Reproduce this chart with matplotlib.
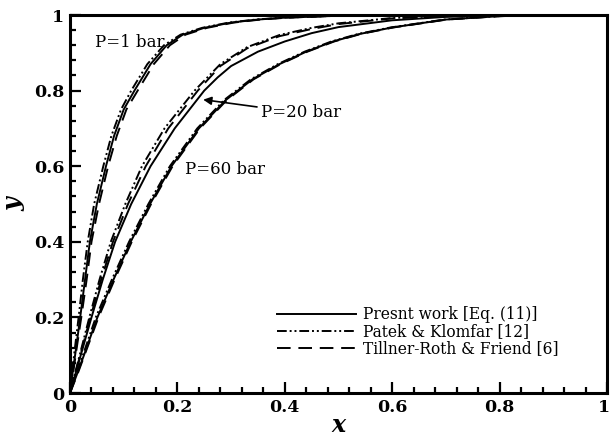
import matplotlib
matplotlib.use('Agg')
import matplotlib.pyplot as plt

# y-x data, three pressures, three models
p1_x_pw = [0, 0.005, 0.010, 0.019, 0.028, 0.037, 0.050, 0.067, 0.082, 0.100, 0.120, 0.150, 0.180, 0.210, 0.250, 0.300, 0.350, 0.400, 0.500, 0.600, 0.800, 1.000]
p1_y_pw = [0, 0.055, 0.105, 0.200, 0.300, 0.400, 0.500, 0.600, 0.680, 0.750, 0.800, 0.870, 0.920, 0.948, 0.966, 0.980, 0.988, 0.993, 0.998, 1.000, 1.000, 1.000]
p1_x_pk = [0, 0.004, 0.008, 0.016, 0.024, 0.033, 0.045, 0.062, 0.077, 0.095, 0.114, 0.144, 0.175, 0.206, 0.246, 0.296, 0.346, 0.397, 0.500, 0.600, 0.800, 1.000]
p1_y_pk = [0, 0.055, 0.105, 0.200, 0.300, 0.400, 0.500, 0.600, 0.680, 0.750, 0.800, 0.870, 0.920, 0.948, 0.966, 0.980, 0.988, 0.993, 0.998, 1.000, 1.000, 1.000]
p1_x_tr = [0, 0.006, 0.011, 0.021, 0.031, 0.040, 0.054, 0.071, 0.087, 0.105, 0.126, 0.156, 0.186, 0.215, 0.255, 0.305, 0.355, 0.405, 0.500, 0.600, 0.800, 1.000]
p1_y_tr = [0, 0.055, 0.105, 0.200, 0.300, 0.400, 0.500, 0.600, 0.680, 0.750, 0.800, 0.870, 0.920, 0.948, 0.966, 0.980, 0.988, 0.993, 0.998, 1.000, 1.000, 1.000]

p20_x_pw = [0, 0.010, 0.020, 0.040, 0.061, 0.084, 0.114, 0.150, 0.195, 0.250, 0.275, 0.300, 0.350, 0.400, 0.450, 0.500, 0.600, 0.700, 0.800, 0.900, 1.000]
p20_y_pw = [0, 0.050, 0.100, 0.200, 0.300, 0.400, 0.500, 0.600, 0.700, 0.800, 0.835, 0.865, 0.903, 0.930, 0.952, 0.968, 0.986, 0.995, 0.999, 1.000, 1.000]
p20_x_pk = [0, 0.009, 0.018, 0.036, 0.055, 0.076, 0.103, 0.134, 0.176, 0.232, 0.280, 0.330, 0.390, 0.450, 0.500, 0.600, 0.700, 0.800, 0.900, 1.000]
p20_y_pk = [0, 0.050, 0.100, 0.200, 0.300, 0.400, 0.500, 0.600, 0.700, 0.800, 0.870, 0.915, 0.947, 0.966, 0.978, 0.992, 0.998, 1.000, 1.000, 1.000]
p20_x_tr = [0, 0.0095, 0.019, 0.038, 0.058, 0.080, 0.108, 0.141, 0.183, 0.238, 0.280, 0.330, 0.390, 0.450, 0.500, 0.600, 0.700, 0.800, 0.900, 1.000]
p20_y_tr = [0, 0.050, 0.100, 0.200, 0.300, 0.400, 0.500, 0.600, 0.700, 0.800, 0.865, 0.912, 0.944, 0.963, 0.976, 0.991, 0.997, 1.000, 1.000, 1.000]

p60_x_pw = [0, 0.013, 0.026, 0.051, 0.081, 0.113, 0.149, 0.189, 0.240, 0.290, 0.340, 0.390, 0.440, 0.490, 0.540, 0.600, 0.700, 0.800, 0.900, 1.000]
p60_y_pw = [0, 0.050, 0.100, 0.200, 0.300, 0.400, 0.500, 0.600, 0.700, 0.775, 0.830, 0.870, 0.903, 0.930, 0.950, 0.967, 0.988, 0.997, 1.000, 1.000]
p60_x_pk = [0, 0.012, 0.024, 0.048, 0.078, 0.110, 0.146, 0.186, 0.237, 0.287, 0.337, 0.387, 0.437, 0.487, 0.537, 0.597, 0.697, 0.797, 0.900, 1.000]
p60_y_pk = [0, 0.050, 0.100, 0.200, 0.300, 0.400, 0.500, 0.600, 0.700, 0.775, 0.830, 0.870, 0.903, 0.930, 0.950, 0.967, 0.988, 0.997, 1.000, 1.000]
p60_x_tr = [0, 0.014, 0.027, 0.053, 0.083, 0.115, 0.151, 0.191, 0.242, 0.292, 0.342, 0.392, 0.442, 0.492, 0.542, 0.602, 0.702, 0.802, 0.900, 1.000]
p60_y_tr = [0, 0.050, 0.100, 0.200, 0.300, 0.400, 0.500, 0.600, 0.700, 0.775, 0.830, 0.870, 0.903, 0.930, 0.950, 0.967, 0.988, 0.997, 1.000, 1.000]

labels = ['Presnt work [Eq. (11)]', 'Patek & Klomfar [12]', 'Tillner-Roth & Friend [6]']
tick_vals = [0, 0.2, 0.4, 0.6, 0.8, 1]
tick_text = ['0', '0.2', '0.4', '0.6', '0.8', '1']

plt.rcParams['font.family'] = ['DejaVu Serif']

fig = plt.figure(figsize=(6.11, 4.37), dpi=100)
ax = fig.add_axes([70/611, 44/437, 537/611, 378/437])

lw = 1.4
dashdot = (0, (5, 1.5, 1, 1.5, 1, 1.5))
dashed = (0, (7, 4))

ax.plot(p1_x_pw, p1_y_pw, color='k', lw=lw, ls='-', label=labels[0])
ax.plot(p1_x_pk, p1_y_pk, color='k', lw=lw, ls=dashdot, label=labels[1])
ax.plot(p1_x_tr, p1_y_tr, color='k', lw=lw, ls=dashed, label=labels[2])
ax.plot(p20_x_pw, p20_y_pw, color='k', lw=lw, ls='-')
ax.plot(p20_x_pk, p20_y_pk, color='k', lw=lw, ls=dashdot)
ax.plot(p20_x_tr, p20_y_tr, color='k', lw=lw, ls=dashed)
ax.plot(p60_x_pw, p60_y_pw, color='k', lw=lw, ls='-')
ax.plot(p60_x_pk, p60_y_pk, color='k', lw=lw, ls=dashdot)
ax.plot(p60_x_tr, p60_y_tr, color='k', lw=lw, ls=dashed)

ax.set_xlim(0, 1)
ax.set_ylim(0, 1)
ax.set_xticks(tick_vals)
# last x label drawn separately so it stays inside the figure
ax.set_xticklabels(tick_text[:-1] + [''])
ax.set_yticks(tick_vals)
ax.set_yticklabels(tick_text)
ax.set_xticks([i*0.04 for i in range(26)], minor=True)
ax.set_yticks([i*0.04 for i in range(26)], minor=True)
ax.tick_params(which='both', direction='in', top=False, right=False, width=1.6)
ax.tick_params(which='major', length=8, labelsize=12.5, pad=4)
ax.tick_params(which='minor', length=4.5)
for t in ax.get_xticklabels() + ax.get_yticklabels():
    t.set_fontweight('bold')
ax.annotate(tick_text[-1], xy=(1, 0), xycoords='axes fraction', xytext=(-2.5, -4),
            textcoords='offset points', ha='center', va='top',
            fontsize=12.5, fontweight='bold')
for s in ax.spines.values():
    s.set_linewidth(2.2)

ax.set_xlabel('x', fontsize=17, fontweight='bold', style='italic', labelpad=-2)
ax.set_ylabel('y', fontsize=17, fontweight='bold', style='italic', labelpad=6)

ax.text(0.047, 0.926, 'P=1 bar', fontsize=12, va='center', ha='left')
ax.text(0.214, 0.59, 'P=60 bar', fontsize=12, va='center', ha='left')
ax.annotate('P=20 bar', xy=(0.248, 0.776), xytext=(0.356, 0.741), fontsize=12,
            va='center', ha='left',
            arrowprops=dict(arrowstyle='-|>', color='k', lw=1.2, mutation_scale=12,
                            shrinkA=1, shrinkB=0))

ax.legend(loc='lower left', bbox_to_anchor=(0.385, 0.095), frameon=False, fontsize=11.2,
          handlelength=5.1, handletextpad=0.45, labelspacing=0.0, borderpad=0,
          borderaxespad=0)

fig.savefig('out.png', dpi=100)
